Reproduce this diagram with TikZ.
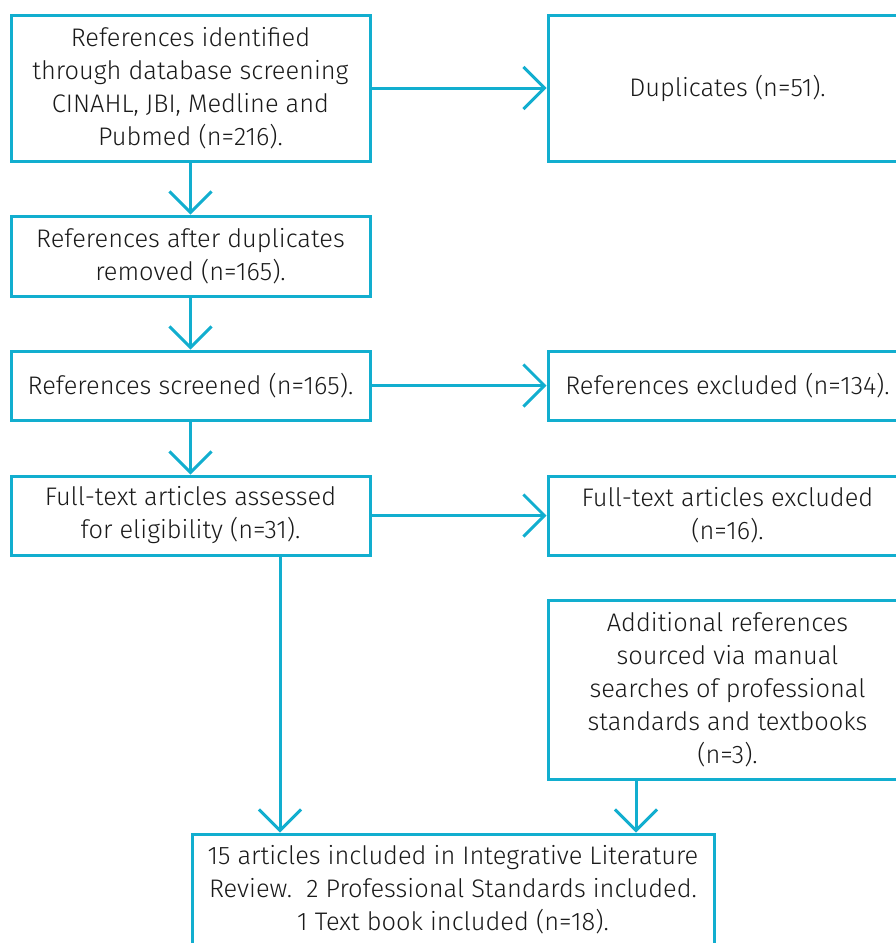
\documentclass[tikz,border=0pt]{standalone}
\usepackage{fontspec}
\setmainfont{Fira Sans Light}
\usetikzlibrary{arrows.meta}
\definecolor{flow}{HTML}{12AECF}
\definecolor{txt}{HTML}{1A1A1A}
\tikzset{
  box/.style={draw=flow, line width=3pt, rectangle, minimum width=359pt, align=center, inner sep=0pt,
    font=\fontsize{25.4}{33}\selectfont, text=txt},
  arr/.style={draw=flow, line width=3pt, -{Straight Barb[length=21pt,width=42pt,line width=3pt]}}
}
\begin{document}
\begin{tikzpicture}[x=1pt,y=-1pt]
\useasboundingbox (0,0) rectangle (895,943);
\node[box, minimum height=146pt] (b1) at (190.5,88) {References identified\\through database screening\\CINAHL, JBI, Medline and\\Pubmed (n=216).};
\node[box, minimum height=146pt] (dup) at (727.5,88) {Duplicates (n=51).};
\node[box, minimum height=80pt] (b2) at (190.5,256) {References after duplicates\\removed (n=165).};
\node[box, minimum height=69pt] (b3) at (190.5,385.5) {References screened (n=165).};
\node[box, minimum height=69pt] (ex) at (727.5,385.5) {References excluded (n=134).};
\node[box, minimum height=79pt] (b4) at (190.5,515.5) {Full-text articles assessed\\for eligibility (n=31).};
\node[box, minimum height=79pt] (ft) at (727.5,515.5) {Full-text articles excluded\\(n=16).};
\node[box, minimum height=179pt] (add) at (727.5,689.5) {Additional references\\sourced via manual\\searches of professional\\standards and textbooks\\(n=3).};
\node[box, minimum width=522pt, minimum height=112pt] (fin) at (453,890) {15 articles included in Integrative Literature\\Review.\ \ 2 Professional Standards included.\\1 Text book included (n=18).};
\draw[arr] (b1) -- (b2);
\draw[arr] (b2) -- (b3);
\draw[arr] (b3) -- (b4);
\draw[arr] (b1) -- (dup);
\draw[arr] (b3) -- (ex);
\draw[arr] (b4) -- (ft);
\coordinate (s1) at ([xshift=89.5pt]b4.south);
\coordinate (s2) at ([xshift=-91.5pt]add.south);
\draw[arr] (s1) -- (s1 |- fin.north);
\draw[arr] (s2) -- (s2 |- fin.north);
\end{tikzpicture}
\end{document}
